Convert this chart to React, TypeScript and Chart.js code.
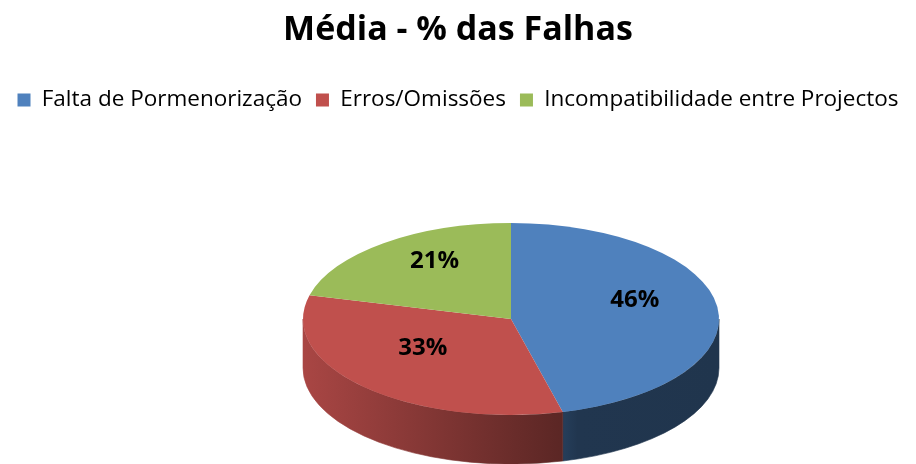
import { useEffect, useRef } from 'react';
import { Chart, registerables } from 'chart.js';

Chart.register(...registerables);

const chartTitle = 'Média - % das Falhas';
const categories = ['Falta de Pormenorização', 'Erros/Omissões', 'Incompatibilidade entre Projectos'];
const values = [46, 33, 21];
const colors = ['#4F81BD', '#C0504D', '#9BBB59'];

function shade(hex: string, f: number): string {
  const h = hex.replace('#', '');
  const r = Math.round(parseInt(h.slice(0, 2), 16) * f);
  const g = Math.round(parseInt(h.slice(2, 4), 16) * f);
  const b = Math.round(parseInt(h.slice(4, 6), 16) * f);
  return `rgb(${r},${g},${b})`;
}

const pie3d = {
  id: 'pie3d',
  beforeDatasetsDraw(chart: any, _args: any, opts: any) {
    const meta = chart.getDatasetMeta(0);
    if (!meta.data.length) return;
    const ctx = chart.ctx as CanvasRenderingContext2D;
    const { tilt, depth, dx, dy } = opts;
    const first = meta.data[0];
    const cx = first.x, cy = first.y, r = first.outerRadius;
    const X = cx + dx, Y = cy + dy, ry = r * tilt;
    meta.data.forEach((arc: any, i: number) => {
      const col = colors[i % colors.length];
      const s = arc.startAngle, e = arc.endAngle;
      for (const off of [-2 * Math.PI, 0, 2 * Math.PI]) {
        const a = Math.max(s + off, 0);
        const b = Math.min(e + off, Math.PI);
        if (b <= a) continue;
        ctx.save();
        ctx.beginPath();
        ctx.ellipse(X, Y, r, ry, 0, a, b, false);
        ctx.ellipse(X, Y + depth, r, ry, 0, b, a, true);
        ctx.closePath();
        const g = ctx.createLinearGradient(X - r, 0, X + r, 0);
        g.addColorStop(0, shade(col, 0.88));
        g.addColorStop(0.63, shade(col, 0.47));
        g.addColorStop(0.66, shade(col, 0.42));
        g.addColorStop(1, shade(col, 0.41));
        ctx.fillStyle = g;
        ctx.fill();
        ctx.strokeStyle = g;
        ctx.lineWidth = 0.6;
        ctx.stroke();
        ctx.restore();
      }
    });
    ctx.save();
    ctx.translate(X, Y);
    ctx.scale(1, tilt);
    ctx.translate(-cx, -cy);
  },
  afterDatasetsDraw(chart: any, _args: any, opts: any) {
    const meta = chart.getDatasetMeta(0);
    if (!meta.data.length) return;
    const ctx = chart.ctx as CanvasRenderingContext2D;
    ctx.restore();
    const { tilt, dx, dy, labelRadius, labelShift, labelFont } = opts;
    const first = meta.data[0];
    const cx = first.x, cy = first.y, r = first.outerRadius;
    const X = cx + dx, Y = cy + dy;
    ctx.save();
    ctx.font = labelFont;
    ctx.fillStyle = '#000';
    ctx.textAlign = 'center';
    ctx.textBaseline = 'middle';
    meta.data.forEach((arc: any, i: number) => {
      const mid = (arc.startAngle + arc.endAngle) / 2;
      const x = X + Math.cos(mid) * r * labelRadius;
      const y = Y + Math.sin(mid) * r * labelRadius * tilt + labelShift;
      ctx.fillText(`${values[i]}%`, x, y);
    });
    ctx.restore();
  },
};

export default function App() {
  const canvasRef = useRef<HTMLCanvasElement | null>(null);

  useEffect(() => {
    document.body.style.margin = '0';
    const canvas = canvasRef.current;
    if (!canvas) return;
    const chart = new Chart(canvas, {
      type: 'pie',
      data: {
        labels: categories,
        datasets: [
          {
            data: values,
            backgroundColor: colors,
            borderWidth: 0,
            radius: 208,
            clip: false,
          } as any,
        ],
      },
      options: {
        animation: false,
        responsive: true,
        maintainAspectRatio: false,
        events: [],
        layout: { padding: 0 },
        plugins: {
          title: {
            display: true,
            text: chartTitle,
            color: '#000',
            font: { family: 'Open Sans', size: 34, weight: 'bold', lineHeight: 1.2 },
            padding: { top: 10, bottom: 24 },
          },
          legend: {
            display: true,
            position: 'top',
            labels: {
              boxWidth: 13,
              boxHeight: 13,
              padding: 14,
              color: '#000',
              font: { family: 'Open Sans', size: 22.5 },
            },
          },
          tooltip: { enabled: false },
          pie3d: {
            tilt: 0.4615,
            depth: 49,
            dx: 53,
            dy: 26.4,
            labelRadius: 0.6,
            labelShift: -12,
            labelFont: 'bold 24px "Open Sans"',
          },
        } as any,
      },
      plugins: [pie3d],
    });
    return () => chart.destroy();
  }, []);

  return (
    <div style={{ position: 'relative', width: 916, height: 464 }}>
      <canvas ref={canvasRef} />
    </div>
  );
}
